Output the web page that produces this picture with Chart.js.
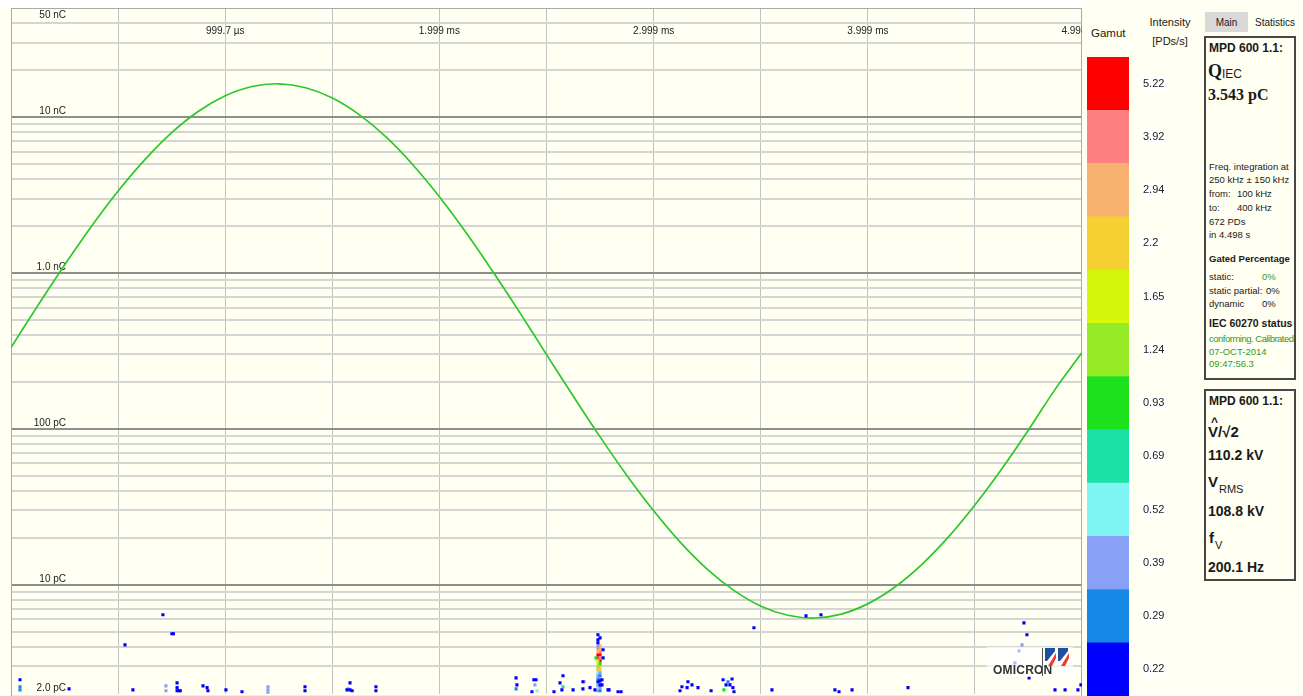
<!DOCTYPE html>
<html lang="es">
<head>
<meta charset="utf-8">
<title>MPD 600 - patrón PRPD</title>
<script src="https://cdn.jsdelivr.net/npm/chart.js@4.4.0/dist/chart.umd.min.js"></script>
<style>
    html, body { margin: 0; padding: 0; }
    body {
        width: 1303px; height: 696px; overflow: hidden; position: relative;
        background: #fffff2; color: #1a1a1a;
        font-family: "Liberation Sans", Arial, sans-serif;
    }
    .t { position: absolute; white-space: nowrap; }
    .p { font-size: 9.5px; line-height: 12px; }
    .b12 { font-size: 12px; line-height: 14px; font-weight: bold; }
    .b14 { font-size: 14px; line-height: 16px; font-weight: bold; }
    .serif { font-family: "Liberation Serif", "Times New Roman", serif; font-weight: bold; }
    .verde { color: #2f9a2f; }
    .caja { position: absolute; border: 2px solid #474747; box-sizing: border-box; }
    #graficoPrincipal { position: absolute; left: 0; top: 0; }
    #graficoGamut { position: absolute; left: 1085px; top: 50px; }
    #logo {
        position: absolute; left: 987px; top: 647px; width: 86px; height: 30px;
        background: rgba(255, 255, 255, 0.72);
    }
</style>
</head>
<body>

<canvas id="graficoPrincipal" width="1085" height="696"></canvas>
<canvas id="graficoGamut" width="95" height="646"></canvas>

<!-- logotipo -->
<div id="logo">
    <div class="t" style="left:6px;top:16px;font-size:12px;font-weight:bold;color:#333;letter-spacing:0.2px;">OMICRON</div>
    <div class="t" style="left:55px;top:1px;width:1px;height:28px;background:#555;"></div>
    <svg class="t" style="left:57px;top:1px;" width="26" height="19" viewBox="0 0 26 19">
        <polygon points="1,0 11,0 11,3 3,13 1,13" fill="#1f4fa0"/>
        <polygon points="12,5 12,10 8,18 4,18" fill="#f03a2a"/>
        <polygon points="14,0 24,0 24,3 16,13 14,13" fill="#1f4fa0"/>
        <polygon points="25,5 25,10 21,18 17,18" fill="#f03a2a"/>
    </svg>
</div>

<!-- cabecera de la escala de colores -->
<div class="t" style="left:1091px;top:27px;font-size:11.5px;">Gamut</div>
<div class="t" style="left:1148px;top:16px;font-size:11px;width:44px;text-align:center;">Intensity</div>
<div class="t" style="left:1148px;top:35px;font-size:11px;width:44px;text-align:center;">[PDs/s]</div>

<!-- pestañas -->
<div class="t" style="left:1205px;top:12px;width:43px;height:20px;background:#d9d9d9;"></div>
<div class="t" style="left:1205px;top:17px;width:43px;text-align:center;font-size:10px;">Main</div>
<div class="t" style="left:1255px;top:17px;font-size:10px;">Statistics</div>

<!-- caja de carga aparente -->
<div class="caja" style="left:1204px;top:36px;width:92px;height:344px;"></div>
<div class="t b12" style="left:1209px;top:41px;">MPD 600 1.1:</div>
<div class="t serif" style="left:1208px;top:61px;font-size:18px;line-height:20px;">Q</div>
<div class="t" style="left:1222px;top:67px;font-size:12px;line-height:14px;">IEC</div>
<div class="t serif" style="left:1208px;top:86px;font-size:16px;line-height:18px;">3.543 pC</div>
<div class="t p" style="left:1209px;top:161px;">Freq. integration at</div>
<div class="t p" style="left:1209px;top:174px;">250 kHz ± 150 kHz</div>
<div class="t p" style="left:1209px;top:188px;">from:</div>
<div class="t p" style="left:1237px;top:188px;">100 kHz</div>
<div class="t p" style="left:1209px;top:202px;">to:</div>
<div class="t p" style="left:1237px;top:202px;">400 kHz</div>
<div class="t p" style="left:1209px;top:216px;">672 PDs</div>
<div class="t p" style="left:1209px;top:229px;">in 4.498 s</div>
<div class="t" style="left:1209px;top:252px;font-size:9.5px;line-height:14px;font-weight:bold;">Gated Percentage</div>
<div class="t p" style="left:1209px;top:271px;">static:</div>
<div class="t p verde" style="left:1262px;top:271px;">0%</div>
<div class="t p" style="left:1209px;top:285px;">static partial:</div>
<div class="t p" style="left:1266px;top:285px;">0%</div>
<div class="t p" style="left:1209px;top:298px;">dynamic</div>
<div class="t p" style="left:1262px;top:298px;">0%</div>
<div class="t" style="left:1209px;top:316px;font-size:10.5px;line-height:14px;font-weight:bold;">IEC 60270 status</div>
<div class="t p verde" style="left:1209px;top:333px;letter-spacing:-0.5px;">conforming. Calibrated</div>
<div class="t p verde" style="left:1209px;top:346px;">07-OCT-2014</div>
<div class="t p verde" style="left:1209px;top:358px;">09:47:56.3</div>

<!-- caja de tensión -->
<div class="caja" style="left:1204px;top:389px;width:92px;height:192px;"></div>
<div class="t b12" style="left:1209px;top:394px;">MPD 600 1.1:</div>
<div class="t b14" style="left:1211px;top:414px;font-size:12px;">^</div>
<div class="t b14" style="left:1208px;top:423px;font-size:15px;line-height:18px;">V/√2</div>
<div class="t b14" style="left:1208px;top:447px;">110.2 kV</div>
<div class="t b14" style="left:1208px;top:473px;font-size:15px;line-height:18px;">V</div>
<div class="t" style="left:1219px;top:483px;font-size:11px;line-height:13px;">RMS</div>
<div class="t b14" style="left:1208px;top:503px;">108.8 kV</div>
<div class="t b14" style="left:1209px;top:529px;font-size:15px;line-height:18px;">f</div>
<div class="t" style="left:1215px;top:539px;font-size:11px;line-height:13px;">V</div>
<div class="t b14" style="left:1208px;top:559px;">200.1 Hz</div>

<script>
// ---- Datos ----

// Eje de tiempo (ms): un periodo de 200.1 Hz
var tiempoMin = 0;
var tiempoMax = 4.998;
var marcasTiempo = [0.4998, 0.9997, 1.499, 1.999, 2.499, 2.999, 3.499, 3.999, 4.498];
var valoresEtiquetaTiempo = [0.9997, 1.999, 2.999, 3.999, 4.998];
var etiquetasTiempo = ['999.7 µs', '1.999 ms', '2.999 ms', '3.999 ms', '4.998 ms'];

// Eje de carga (pC), logarítmico
var cargaMin = 2;
var cargaMax = 50000;
var valoresEtiquetaCarga = [50000, 10000, 1000, 100, 10, 2];
var etiquetasCarga = ['50 nC', '10 nC', '1.0 nC', '100 pC', '10 pC', '2.0 pC'];

// Tensión de ensayo (kV) leída sobre el periodo
var tiemposTension = [0.000, 0.125, 0.250, 0.375, 0.500, 0.625, 0.750, 0.875, 1.000, 1.125,
    1.250, 1.375, 1.500, 1.625, 1.750, 1.875, 2.000, 2.125, 2.250, 2.375,
    2.500, 2.625, 2.750, 2.875, 3.000, 3.125, 3.250, 3.375, 3.500, 3.625,
    3.750, 3.875, 4.000, 4.125, 4.250, 4.375, 4.500, 4.625, 4.750, 4.875, 4.998];
var valoresTension = [2.0, 26.4, 50.1, 72.6, 93.3, 111.6, 127.3, 139.8, 148.8, 154.2,
    155.8, 153.5, 147.5, 137.8, 124.8, 108.6, 89.8, 68.8, 46.0, 22.2,
    -2.3, -26.6, -50.3, -72.8, -93.4, -111.8, -127.4, -139.8, -148.9, -154.2,
    -155.8, -153.5, -147.4, -137.7, -124.6, -108.5, -89.6, -68.6, -45.8, -22.0, -1.0];
var tensionMin = -200;
var tensionMax = 200;

// Escala de intensidad (PDs/s)
var nivelesGamut = ['0.22', '0.29', '0.39', '0.52', '0.69', '0.93', '1.24', '1.65', '2.2', '2.94', '3.92', '5.22'];
var coloresGamut = ['#0000ff', '#1688e6', '#88a0f5', '#80f5f5', '#1ae2a6', '#1ee11e',
    '#94eb26', '#d4f80c', '#f5d032', '#f8b270', '#ff8080', '#ff0000'];

// Descargas parciales [tiempo ms, carga pC] por nivel de intensidad
var pd022 = [[0.042, 2.46], [0.271, 2.15], [0.532, 4.12], [0.569, 2.12], [0.709, 6.42],
    [0.751, 4.85], [0.758, 4.85], [0.775, 2.35], [0.775, 2.19], [0.775, 2.09], [0.784, 2.09],
    [0.790, 2.09], [0.896, 2.25], [0.915, 2.19], [0.919, 2.09], [1.003, 2.12], [1.078, 2.06],
    [1.372, 2.22], [1.372, 2.09], [1.582, 2.35], [1.568, 2.12], [1.582, 2.12], [1.592, 2.09],
    [1.703, 2.22], [1.703, 2.09], [2.357, 2.53], [2.361, 2.28], [2.440, 2.46], [2.450, 2.46],
    [2.431, 2.06], [2.576, 2.61], [2.562, 2.35], [2.571, 2.12], [2.534, 2.06], [2.623, 2.12],
    [2.669, 2.15], [2.669, 2.39], [2.702, 2.19], [2.725, 2.12], [2.739, 4.78], [2.749, 4.57],
    [2.739, 4.44], [2.739, 4.25], [2.763, 3.83], [2.763, 3.40], [2.739, 2.39], [2.749, 2.42],
    [2.749, 2.28], [2.758, 2.46], [2.758, 2.28], [2.786, 2.12], [2.791, 2.12], [2.833, 2.06],
    [2.847, 2.06], [3.122, 2.09], [3.131, 2.22], [3.155, 2.19], [3.159, 2.39], [3.178, 2.28],
    [3.206, 2.19], [3.267, 2.09], [3.323, 2.46], [3.337, 2.28], [3.355, 2.28], [3.365, 2.49],
    [3.369, 2.19], [3.374, 2.06], [3.467, 5.30], [3.551, 2.12], [3.710, 6.32], [3.780, 6.42],
    [3.845, 2.12], [3.864, 2.06], [3.925, 2.12], [4.186, 2.19], [4.685, 3.16], [4.704, 3.77],
    [4.727, 5.70], [4.741, 4.78], [4.751, 2.53], [4.872, 2.12], [4.919, 2.12], [4.979, 2.12],
    [4.993, 2.28]];
var pd029 = [[0.042, 2.22], [0.042, 2.12], [2.357, 2.15], [3.346, 2.39], [2.749, 2.61],
    [2.739, 2.49], [2.749, 2.09]];
var pd039 = [[0.723, 2.25], [0.723, 2.09], [1.199, 2.22], [1.199, 2.12], [1.199, 2.03],
    [1.573, 2.15], [2.445, 2.28], [2.674, 2.39], [4.718, 4.12], [2.739, 4.06], [2.749, 2.73],
    [2.739, 2.61], [2.749, 2.49], [2.739, 2.28], [2.749, 2.19], [2.739, 2.09]];
var pd052 = [[2.455, 2.09], [2.739, 2.73], [2.739, 2.19]];
var pd069 = [[2.576, 2.22]];
var pd093 = [[3.327, 2.12], [2.730, 3.40], [2.749, 3.11]];
var pd124 = [[2.739, 2.98]];
var pd165 = [[2.739, 3.11]];
var pd220 = [[2.739, 3.25], [2.749, 2.98], [2.749, 2.85]];
var pd294 = [[2.749, 4.06], [2.749, 3.89], [2.739, 3.72], [2.739, 2.85]];
var pd392 = [[2.739, 3.89], [2.749, 3.72], [2.749, 3.40]];
var pd522 = [[2.739, 3.56], [2.749, 3.56], [2.739, 3.40], [2.749, 3.25]];

var nivelesPD = [pd022, pd029, pd039, pd052, pd069, pd093, pd124, pd165, pd220, pd294, pd392, pd522];

// ---- Gráfico principal ----

// Líneas de rejilla 1..9 por década dentro del rango de carga
var marcasCarga = [];
[1, 10, 100, 1000, 10000].forEach(function (d) {
    for (var m = 1; m <= 9; m++) {
        var v = m * d;
        if (v > cargaMin && v < cargaMax) marcasCarga.push(v);
    }
});

function esDecada(v) {
    var l = Math.log10(v);
    return Math.abs(l - Math.round(l)) < 1e-6;
}

var fuenteEjes = '10px "Liberation Sans", Arial, sans-serif';

// Fondo, marco y rótulos de los ejes dibujados dentro del área
var rotulosInternos = {
    id: 'rotulosInternos',
    beforeDraw: function (chart) {
        var ctx = chart.ctx;
        ctx.save();
        ctx.fillStyle = '#fffff2';
        ctx.fillRect(0, 0, chart.width, chart.height);
        ctx.fillStyle = '#ffffff';
        ctx.fillRect(0, 0, chart.width, chart.chartArea.top);
        ctx.restore();
    },
    beforeDatasetsDraw: function (chart) {
        var ctx = chart.ctx;
        var area = chart.chartArea;
        var ex = chart.scales.x;
        var ey = chart.scales.y;

        ctx.save();
        ctx.strokeStyle = '#aaaaaa';
        ctx.lineWidth = 1;
        ctx.strokeRect(area.left + 0.5, area.top + 0.5, area.right - area.left - 1, area.bottom - area.top + 2);

        ctx.font = fuenteEjes;
        ctx.fillStyle = '#222222';

        // rótulos de carga
        ctx.textAlign = 'right';
        etiquetasCarga.forEach(function (txt, i) {
            var y = ey.getPixelForValue(valoresEtiquetaCarga[i]);
            if (y - area.top < 12) {
                ctx.textBaseline = 'top';
                ctx.fillText(txt, 66, y + 2);
            } else {
                ctx.textBaseline = 'bottom';
                ctx.fillText(txt, 66, y - 1);
            }
        });

        // rótulos de tiempo, recortados al área
        ctx.beginPath();
        ctx.rect(area.left, area.top, area.right - area.left, area.bottom - area.top);
        ctx.clip();
        ctx.textAlign = 'center';
        ctx.textBaseline = 'middle';
        etiquetasTiempo.forEach(function (txt, i) {
            var x = ex.getPixelForValue(valoresEtiquetaTiempo[i]);
            ctx.fillText(txt, x, area.top + 23);
        });
        ctx.restore();
    }
};

var datasetsPD = nivelesPD.map(function (puntos, i) {
    return {
        label: 'PD ' + nivelesGamut[i],
        data: puntos.map(function (p) { return { x: p[0], y: p[1] }; }),
        xAxisID: 'x',
        yAxisID: 'y',
        backgroundColor: coloresGamut[i],
        pointStyle: 'rect',
        pointRadius: 2.2,
        pointBorderWidth: 0,
        pointHoverRadius: 2.2
    };
});

var datasetTension = {
    label: 'Tensión',
    data: tiemposTension.map(function (t, i) { return { x: t, y: valoresTension[i] }; }),
    xAxisID: 'x',
    yAxisID: 'v',
    showLine: true,
    borderColor: '#2cc72c',
    borderWidth: 1.7,
    tension: 0.4,
    pointRadius: 0,
    pointHoverRadius: 0
};

new Chart(document.getElementById('graficoPrincipal').getContext('2d'), {
    type: 'scatter',
    data: { datasets: datasetsPD.concat([datasetTension]) },
    options: {
        responsive: false,
        animation: false,
        devicePixelRatio: 1,
        events: [],
        layout: { padding: { left: 11, top: 8, right: 3, bottom: 2 } },
        plugins: { legend: { display: false }, tooltip: { enabled: false } },
        scales: {
            x: {
                type: 'linear',
                min: tiempoMin,
                max: tiempoMax,
                afterBuildTicks: function (escala) {
                    escala.ticks = marcasTiempo.map(function (v) { return { value: v }; });
                },
                grid: { color: '#c2c2c2', lineWidth: 1, drawTicks: false },
                border: { display: false },
                ticks: { display: false }
            },
            y: {
                type: 'logarithmic',
                min: cargaMin,
                max: cargaMax,
                afterBuildTicks: function (escala) {
                    escala.ticks = marcasCarga.map(function (v) { return { value: v }; });
                },
                grid: {
                    drawTicks: false,
                    lineWidth: 2,
                    color: function (c) {
                        return (c.tick && esDecada(c.tick.value)) ? '#8e8e8e' : '#d5d5d5';
                    }
                },
                border: { display: false },
                ticks: { display: false }
            },
            v: {
                type: 'linear',
                min: tensionMin,
                max: tensionMax,
                display: false
            }
        }
    },
    plugins: [rotulosInternos]
});

// ---- Escala de colores (Gamut) ----

new Chart(document.getElementById('graficoGamut').getContext('2d'), {
    type: 'bar',
    data: {
        labels: [''],
        datasets: nivelesGamut.map(function (n, i) {
            return {
                label: n,
                data: [1],
                backgroundColor: coloresGamut[i],
                borderWidth: 0,
                barPercentage: 1,
                categoryPercentage: 1
            };
        })
    },
    options: {
        responsive: false,
        animation: false,
        devicePixelRatio: 1,
        events: [],
        layout: { padding: { left: 2, top: 7, right: 0, bottom: 0 } },
        plugins: { legend: { display: false }, tooltip: { enabled: false } },
        scales: {
            x: { stacked: true, display: false },
            y: {
                stacked: true,
                min: 0,
                max: nivelesGamut.length,
                position: 'right',
                afterBuildTicks: function (escala) {
                    escala.ticks = nivelesGamut.map(function (n, i) { return { value: i + 0.5 }; });
                },
                afterFit: function (escala) {
                    // la barra ocupa toda la altura, sin el margen de los rótulos extremos
                    escala.width = 51;
                    escala.paddingTop = 0;
                    escala.paddingBottom = 0;
                },
                grid: { display: false, drawTicks: false },
                border: { display: false },
                ticks: {
                    padding: 14,
                    color: '#222222',
                    font: { family: '"Liberation Sans", Arial, sans-serif', size: 11 },
                    showLabelBackdrop: true,
                    backdropColor: '#ffffff',
                    backdropPadding: 1,
                    callback: function (valor) { return nivelesGamut[Math.floor(valor)]; }
                }
            }
        }
    }
});
</script>
</body>
</html>
